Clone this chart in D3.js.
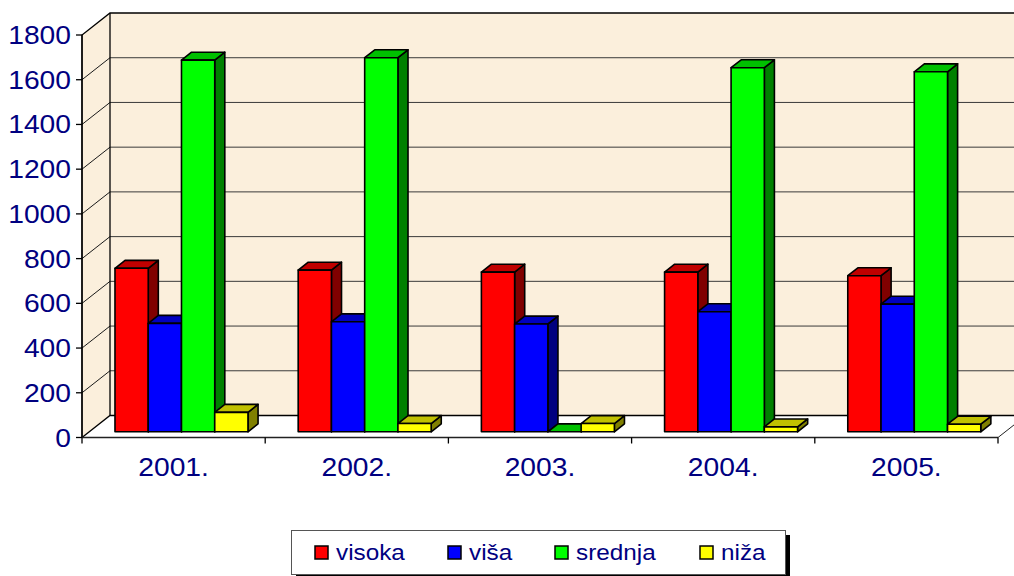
<!DOCTYPE html>
<html><head><meta charset="utf-8">
<script src="https://cdn.jsdelivr.net/npm/d3@7"></script>
<style>body{margin:0;background:#fff}svg{display:block}</style>
</head><body>
<svg id="c" width="1014" height="576"></svg>
<script>
const categories = ["2001.", "2002.", "2003.", "2004.", "2005."];
const seriesNames = ["visoka", "viša", "srednja", "niža"];
const visoka  = [731, 723, 714, 714, 698];
const visa    = [485, 492, 482, 537, 571];
const srednja = [1662, 1673, 0, 1628, 1610];
const niza    = [87, 37, 37, 22, 34];
const yTicks = [0, 200, 400, 600, 800, 1000, 1200, 1400, 1600, 1800];
const faceColors = ["#FF0000", "#0000FF", "#00FF00", "#FFFF00"];
const sideColors = ["#800000", "#000080", "#008000", "#808000"];
const topColors  = ["#C00000", "#0000C0", "#00C000", "#C0C000"];
const values = [visoka, visa, srednja, niza];

const svg = d3.select("#c");
const DX = 28, DY = 22;
const SX = 1.13;
const FONT = "Liberation Sans, Arial, sans-serif";
const x = d3.scaleBand().domain(categories).range([82, 998]).padding(0);
const y = d3.scaleLinear().domain([0, 1800]).range([437.5, 35]);
const inner = d3.scaleBand().domain(seriesNames).range([25.7, x.bandwidth() - 24.5]).padding(0);
const P = (px, v, z) => [px + z * DX, y(v) - z * DY];
const line = d3.line();

function stretchedText(parent, tx, ty, str, size, anchor) {
  return parent.append("text")
    .attr("transform", `translate(${tx},${ty}) scale(${SX},1)`)
    .attr("text-anchor", anchor).attr("font-family", FONT)
    .attr("font-size", size).attr("fill", "#000080").text(str);
}

// walls
const x0 = x.range()[0], x1 = x.range()[1];
svg.append("path").attr("d", line([P(x0,0,0), P(x0,1800,0), P(x0,1800,1), P(x0,0,1)]) + "Z")
  .attr("fill", "#FBEFDC").attr("stroke", "none");
svg.append("path").attr("d", line([P(x0,0,1), P(x0,1800,1), P(x1,1800,1), P(x1,0,1)]) + "Z")
  .attr("fill", "#FBEFDC").attr("stroke", "none");
// floor
svg.append("path").attr("d", line([P(x0,0,0), P(x0,0,1), P(x1,0,1), P(x1,0,0)]) + "Z")
  .attr("fill", "#FFFFFF").attr("stroke", "none");
// gridlines
yTicks.forEach(t => {
  if (t === 0 || t === 1800) return;
  svg.append("path").attr("d", line([P(x0,t,1), P(x1,t,1)]))
    .attr("stroke", "#3a3a3a").attr("stroke-width", 1).attr("fill", "none");
  svg.append("path").attr("d", line([P(x0,t,0), P(x0,t,1)]))
    .attr("stroke", "#1a1a1a").attr("stroke-width", 1).attr("fill", "none");
});
// wall outlines
svg.append("path").attr("d", line([P(x0,0,0), P(x0,1800,0), P(x0,1800,1), P(x1,1800,1)]))
  .attr("stroke", "#000").attr("stroke-width", 1.3).attr("fill", "none");
svg.append("path").attr("d", line([P(x0,0,1), P(x0,1800,1)]))
  .attr("stroke", "#000").attr("stroke-width", 1.3).attr("fill", "none");
svg.append("path").attr("d", line([P(x0,0,0), P(x0,0,1), P(x1,0,1)]))
  .attr("stroke", "#000").attr("stroke-width", 1.3).attr("fill", "none");
svg.append("path").attr("d", line([P(x1,0,0), P(x1,0,1)]))
  .attr("stroke", "#222").attr("stroke-width", 1).attr("fill", "none");

// bars
const Z0 = 0.26, Z1 = 0.62;
categories.forEach((c, ci) => {
  seriesNames.forEach((s, si) => {
    const v = values[si][ci];
    const xl = x(c) + inner(s), xr = xl + inner.bandwidth();
    const g = svg.append("g").attr("stroke", "#000").attr("stroke-width", 1.6).attr("stroke-linejoin", "round");
    g.append("path").attr("d", line([P(xr,0,Z0), P(xr,v,Z0), P(xr,v,Z1), P(xr,0,Z1)]) + "Z")
      .attr("fill", sideColors[si]);
    g.append("path").attr("d", line([P(xl,v,Z0), P(xl,v,Z1), P(xr,v,Z1), P(xr,v,Z0)]) + "Z")
      .attr("fill", topColors[si]);
    if (v > 0) {
      g.append("path").attr("d", line([P(xl,0,Z0), P(xl,v,Z0), P(xr,v,Z0), P(xr,0,Z0)]) + "Z")
        .attr("fill", faceColors[si]);
    }
  });
});

// front axes
svg.append("line").attr("x1", x0).attr("x2", x0).attr("y1", y(0)).attr("y2", y(1800))
  .attr("stroke", "#000").attr("stroke-width", 1.3);
svg.append("line").attr("x1", x0).attr("x2", x1).attr("y1", y(0)).attr("y2", y(0))
  .attr("stroke", "#222").attr("stroke-width", 1.3);
yTicks.forEach(t => {
  svg.append("line").attr("x1", x0 - 6).attr("x2", x0).attr("y1", y(t)).attr("y2", y(t))
    .attr("stroke", "#000").attr("stroke-width", 1.3);
  stretchedText(svg, 71, y(t) + 9, t, 25, "end");
});
const bounds = categories.map(c => x(c)).concat([x1]);
bounds.forEach(b => {
  svg.append("line").attr("x1", b).attr("x2", b).attr("y1", y(0)).attr("y2", y(0) + 6)
    .attr("stroke", "#000").attr("stroke-width", 1.3);
});
categories.forEach(c => {
  stretchedText(svg, x(c) + x.bandwidth() / 2, 476, c, 25, "middle");
});

// legend
const lg = svg.append("g");
lg.append("rect").attr("x", 296).attr("y", 535).attr("width", 494).attr("height", 44).attr("fill", "#000");
lg.append("rect").attr("x", 291.5).attr("y", 530.5).attr("width", 494).attr("height", 44)
  .attr("fill", "#fff").attr("stroke", "#555").attr("stroke-width", 1);
const legX = [315, 448, 555, 700];
seriesNames.forEach((s, i) => {
  lg.append("rect").attr("x", legX[i]).attr("y", 546).attr("width", 13).attr("height", 13)
    .attr("fill", faceColors[i]).attr("stroke", "#000").attr("stroke-width", 1.5);
  stretchedText(lg, legX[i] + 21, 560, s, 21.5, "start");
});
</script>
</body></html>
